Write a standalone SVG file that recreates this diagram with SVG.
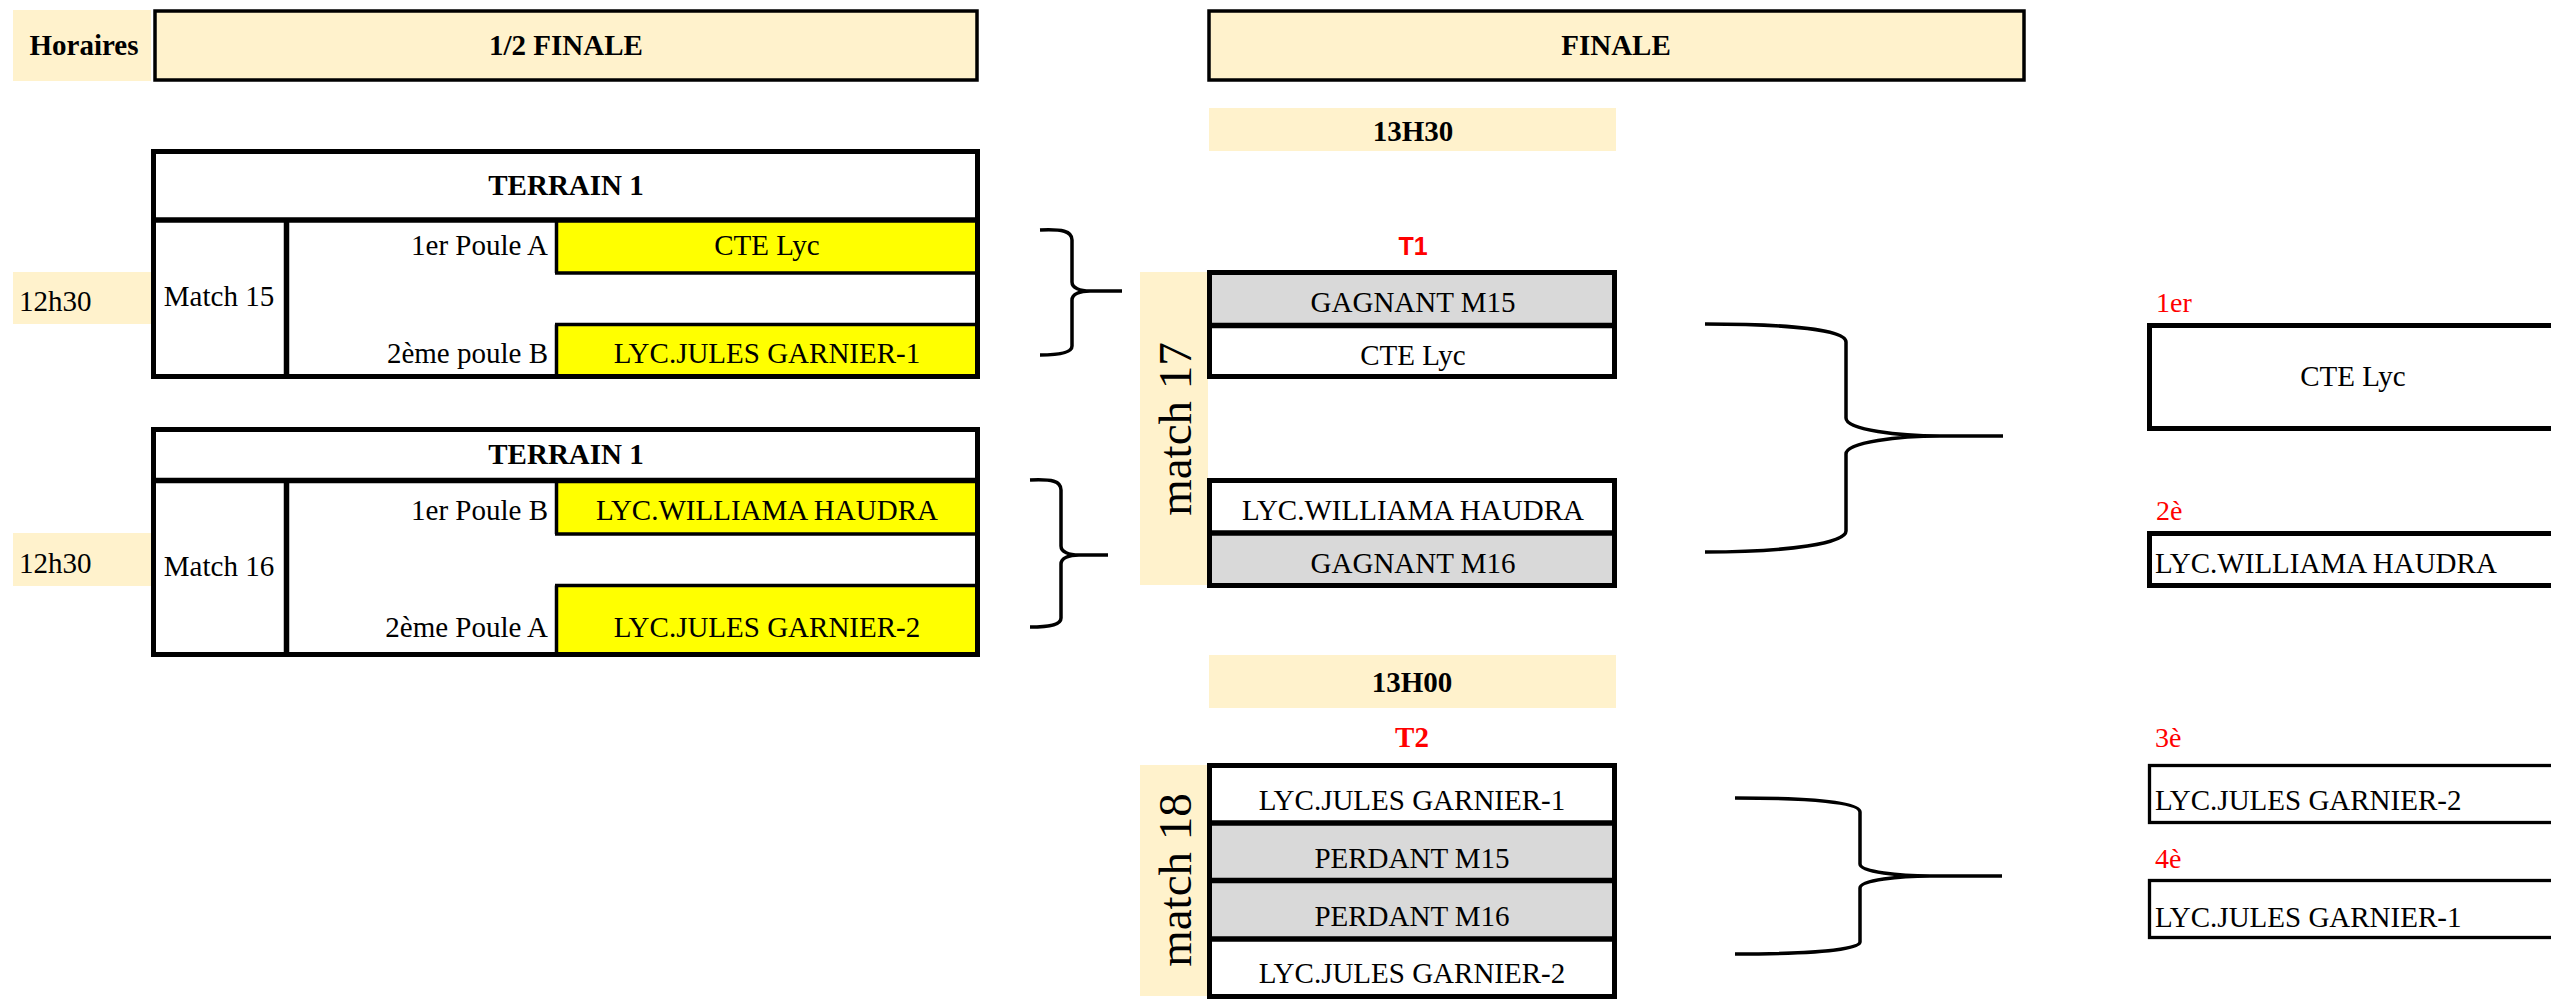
<svg xmlns="http://www.w3.org/2000/svg" width="2551" height="999" viewBox="0 0 2551 999">
<style>
.t{font-family:"Liberation Serif","Times New Roman",serif;font-size:29px;fill:#000}
.b{font-weight:bold}
.m{text-anchor:middle}
.e{text-anchor:end}
.red{fill:#FF0000}
.r28{font-size:28px}
.big{font-size:47px}
.sans{font-family:"Liberation Sans",Arial,sans-serif;font-size:25px}
.beige{fill:#FFF2CC}
.grey{fill:#D9D9D9}
.yel{fill:#FFFF00}
.wh{fill:#FFFFFF}
.hd{fill:#FFF2CC;stroke:#000;stroke-width:3.5}
.bx{fill:none;stroke:#000;stroke-width:5}
.bx3{fill:none;stroke:#000;stroke-width:3.3}
.ln{stroke:#000;stroke-width:5.5}
.ln3{stroke:#000;stroke-width:3.5}
.brace{fill:none;stroke:#000;stroke-width:3.5}
</style>
<rect x="0" y="0" width="2551" height="999" fill="#FFFFFF"/>

<g id="horaires">
<rect class="beige" x="13" y="10" width="138" height="71"/>
<text class="t b m" x="84" y="55">Horaires</text>
</g>
<g id="demi-finale-header">
<rect class="hd" x="155" y="11" width="822" height="69"/>
<text class="t b m" x="566" y="55">1/2 FINALE</text>
</g>
<g id="finale-header">
<rect class="hd" x="1209" y="11" width="815" height="69"/>
<text class="t b m" x="1616" y="55">FINALE</text>
</g>

<g id="match15">
<rect class="beige" x="13" y="272" width="138" height="52"/>
<text class="t" x="19" y="311">12h30</text>
<rect class="wh" x="153.5" y="151.5" width="824" height="225"/>
<rect class="yel" x="555" y="220" width="423" height="53"/>
<rect class="yel" x="555" y="324" width="423" height="53"/>
<line class="ln3" x1="556.5" y1="220" x2="556.5" y2="273"/>
<line class="ln3" x1="555" y1="273" x2="978" y2="273"/>
<line class="ln3" x1="556.5" y1="324.5" x2="556.5" y2="377"/>
<line class="ln3" x1="555" y1="324.5" x2="978" y2="324.5"/>
<line class="ln" x1="151" y1="220" x2="980" y2="220"/>
<line class="ln" x1="286.5" y1="220" x2="286.5" y2="379"/>
<rect class="bx" x="153.5" y="151.5" width="824" height="225"/>
<text class="t b m" x="566" y="195">TERRAIN 1</text>
<text class="t m" x="219" y="306">Match 15</text>
<text class="t e" x="548" y="255">1er Poule A</text>
<text class="t e" x="548" y="363">2ème poule B</text>
<text class="t m" x="767" y="255">CTE Lyc</text>
<text class="t m" x="767" y="363">LYC.JULES GARNIER-1</text>
</g>

<g id="match16">
<rect class="beige" x="13" y="533" width="138" height="53"/>
<text class="t" x="19" y="573">12h30</text>
<rect class="wh" x="153.5" y="429.5" width="824" height="225"/>
<rect class="yel" x="555" y="480" width="423" height="54"/>
<rect class="yel" x="555" y="585" width="423" height="68"/>
<line class="ln3" x1="556.5" y1="480" x2="556.5" y2="534"/>
<line class="ln3" x1="555" y1="534" x2="978" y2="534"/>
<line class="ln3" x1="556.5" y1="585.5" x2="556.5" y2="654"/>
<line class="ln3" x1="555" y1="585.5" x2="978" y2="585.5"/>
<line class="ln" x1="151" y1="480.5" x2="980" y2="480.5"/>
<line class="ln" x1="286.5" y1="480.5" x2="286.5" y2="657"/>
<rect class="bx" x="153.5" y="429.5" width="824" height="225"/>
<text class="t b m" x="566" y="464">TERRAIN 1</text>
<text class="t m" x="219" y="576">Match 16</text>
<text class="t e" x="548" y="520">1er Poule B</text>
<text class="t e" x="548" y="637">2ème Poule A</text>
<text class="t m" x="767" y="520">LYC.WILLIAMA HAUDRA</text>
<text class="t m" x="767" y="637">LYC.JULES GARNIER-2</text>
</g>

<g id="match17">
<rect class="beige" x="1209" y="108" width="407" height="43"/>
<text class="t b m" x="1413" y="141">13H30</text>
<text class="sans b m red" x="1413" y="255">T1</text>
<rect class="beige" x="1140" y="272" width="68" height="313"/>
<text class="t m big" transform="translate(1191,429) rotate(-90)">match 17</text>
<rect class="wh" x="1209.5" y="272.5" width="405" height="104"/>
<rect class="grey" x="1209.5" y="272.5" width="405" height="53"/>
<line class="ln" x1="1207" y1="325.5" x2="1617" y2="325.5"/>
<rect class="bx" x="1209.5" y="272.5" width="405" height="104"/>
<text class="t m" x="1413" y="312">GAGNANT M15</text>
<text class="t m" x="1413" y="365">CTE Lyc</text>
<rect class="wh" x="1209.5" y="480.5" width="405" height="105"/>
<rect class="grey" x="1209.5" y="533" width="405" height="52.5"/>
<line class="ln" x1="1207" y1="533" x2="1617" y2="533"/>
<rect class="bx" x="1209.5" y="480.5" width="405" height="105"/>
<text class="t m" x="1413" y="520">LYC.WILLIAMA HAUDRA</text>
<text class="t m" x="1413" y="573">GAGNANT M16</text>
</g>

<g id="match18">
<rect class="beige" x="1209" y="655" width="407" height="53"/>
<text class="t b m" x="1412" y="692">13H00</text>
<text class="t b m red" x="1412" y="747">T2</text>
<rect class="beige" x="1140" y="765" width="68" height="231"/>
<text class="t m big" transform="translate(1191,880) rotate(-90)">match 18</text>
<rect class="wh" x="1209.5" y="765.5" width="405" height="231"/>
<rect class="grey" x="1209.5" y="823" width="405" height="116"/>
<line class="ln" x1="1207" y1="823" x2="1617" y2="823"/>
<line class="ln" x1="1207" y1="880.5" x2="1617" y2="880.5"/>
<line class="ln" x1="1207" y1="939" x2="1617" y2="939"/>
<rect class="bx" x="1209.5" y="765.5" width="405" height="231"/>
<text class="t m" x="1412" y="810">LYC.JULES GARNIER-1</text>
<text class="t m" x="1412" y="868">PERDANT M15</text>
<text class="t m" x="1412" y="926">PERDANT M16</text>
<text class="t m" x="1412" y="983">LYC.JULES GARNIER-2</text>
</g>

<g id="rank1">
<text class="t red r28" x="2156" y="312">1er</text>
<rect class="bx" x="2149.5" y="325.5" width="500" height="103"/>
<text class="t m" x="2353" y="386">CTE Lyc</text>
</g>
<g id="rank2">
<text class="t red r28" x="2156" y="520">2è</text>
<rect class="bx" x="2149.5" y="533.5" width="500" height="52"/>
<text class="t" x="2155" y="573">LYC.WILLIAMA HAUDRA</text>
</g>
<g id="rank3">
<text class="t red r28" x="2155" y="747">3è</text>
<rect class="bx3" x="2149.5" y="765.5" width="500" height="57"/>
<text class="t" x="2155" y="810">LYC.JULES GARNIER-2</text>
</g>
<g id="rank4">
<text class="t red r28" x="2155" y="868">4è</text>
<rect class="bx3" x="2149.5" y="880.5" width="500" height="57"/>
<text class="t" x="2155" y="927">LYC.JULES GARNIER-1</text>
</g>

<g id="connectors">
<path class="brace" d="M1040,230 C1062,229 1072,231 1072,240 L1072,282 C1072,288 1080,291 1090,291 L1122,291 M1090,291 C1080,291 1072,294 1072,300 L1072,346 C1072,352 1062,355 1040,355"/>
<path class="brace" d="M1030,480 C1052,479 1061,481 1061,490 L1061,546 C1061,552 1069,555 1079,555 L1108,555 M1079,555 C1069,555 1061,558 1061,564 L1061,618 C1061,624 1052,627 1030,627"/>
<path class="brace" d="M1705,324 C1790,324 1846,330 1846,342 L1846,418 C1846,430 1900,436 1940,436 L2003,436 M1940,436 C1900,436 1846,442 1846,454 L1846,531 C1846,543 1790,552 1705,552"/>
<path class="brace" d="M1735,798 C1810,798 1860,802 1860,812 L1860,864 C1860,872 1900,876 1930,876 L2002,876 M1930,876 C1900,876 1860,880 1860,888 L1860,942 C1860,950 1810,954 1735,954"/>
</g>
</svg>
